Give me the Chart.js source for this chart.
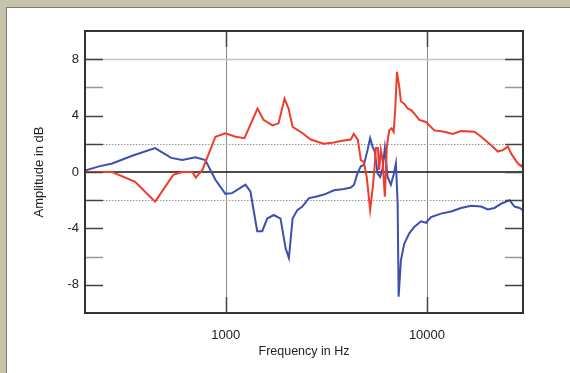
<!DOCTYPE html>
<html>
<head>
<meta charset="utf-8">
<script src="https://cdn.jsdelivr.net/npm/chart.js@4"></script>
<style>
  body { margin: 0; width: 570px; height: 373px; overflow: hidden; position: relative; background: #c5c3aa; }
  .panel { position: absolute; left: 6px; top: 7px; width: 564px; height: 366px; background: #fff;
           border-left: 1px solid #7d7c72; border-top: 1px solid #7d7c72; box-sizing: border-box; }
  #graph { position: absolute; left: 0; top: 0; }
</style>
</head>
<body>
<div class="panel"></div>
<canvas id="graph" width="570" height="373"></canvas>
<script>
// frequency response, two traces (Hz / dB)
const redFreq = [200, 273, 355, 446, 549, 609, 683, 710, 766, 889, 997, 1118, 1240, 1439, 1541, 1709, 1830, 1961,
  2053, 2150, 2411, 2643, 3069, 3442, 3728, 4182, 4328, 4532, 4692, 4857, 5025, 5220, 5383, 5477, 5572, 5702,
  5788, 5902, 6015, 6176, 6320, 6491, 6672, 6828, 6954, 7091, 7281, 7424, 7709, 8013, 8324, 8646, 9157, 9888,
  10877, 12198, 13433, 14773, 17211, 18584, 20838, 22504, 23831, 25237, 26213, 28311, 29403, 30000];
const redDb = [0, 0, -0.7, -2.1, -0.2, 0, 0, -0.4, 0.15, 2.5, 2.75, 2.5, 2.4, 4.5, 3.7, 3.3, 3.45, 5.2,
  4.5, 3.2, 2.75, 2.3, 2.0, 2.1, 2.2, 2.3, 2.7, 2.3, 0.85, 0.7, -0.4, -2.7, -1.05, 0.15, 1.7, 1.7,
  0.15, 1.55, 0.85, -1.75, 1.8, 2.95, 3.1, 2.85, 4.4, 7.1, 6.05, 5.0, 4.85, 4.5, 4.4, 4.15, 3.7, 3.55,
  2.95, 2.85, 2.7, 2.9, 2.85, 2.5, 1.9, 1.45, 1.55, 1.8, 1.3, 0.6, 0.4, 0.6];

const blueFreq = [200, 235, 273, 343, 446, 536, 609, 707, 792, 889, 997, 1076, 1254, 1328, 1434, 1519, 1608,
  1735, 1873, 1984, 2061, 2150, 2269, 2403, 2592, 2799, 3079, 3454, 3873, 4182, 4343, 4516, 4692, 4857, 5066,
  5220, 5365, 5508, 5681, 5854, 6015, 6176, 6372, 6618, 6828, 7010, 7149, 7231, 7424, 7709, 8166, 8646, 9338,
  9888, 10471, 11748, 13175, 14773, 16570, 18584, 20066, 21650, 23381, 25711, 27227, 28836, 30000];
const blueDb = [0.1, 0.4, 0.6, 1.15, 1.7, 1.0, 0.85, 1.05, 0.85, -0.55, -1.55, -1.5, -0.9, -1.4, -4.2, -4.2, -3.3,
  -3.05, -3.3, -5.4, -6.1, -3.3, -2.7, -2.45, -1.85, -1.75, -1.6, -1.3, -1.2, -1.1, -0.9, -0.1, 0.4, 0.5, 1.55,
  2.4, 1.8, 1.45, -0.1, -0.35, 0.25, 1.7, -0.35, -0.9, -0.2, 0.6, -2.2, -8.85, -6.25, -5.1, -4.35, -3.9, -3.5,
  -3.6, -3.2, -2.95, -2.8, -2.55, -2.4, -2.45, -2.65, -2.55, -2.25, -2.0, -2.45, -2.55, -2.7];

const xLabels = [1000, 10000];
const yTicks = [-8, -6, -4, -2, 0, 2, 4, 6, 8];
const yLabels = [-8, -4, 0, 4, 8];

const toPoints = (fs, ds) => fs.map((f, i) => ({ x: f, y: ds[i] }));

Chart.defaults.font.family = '"Liberation Sans", Arial, sans-serif';
Chart.defaults.color = '#222';

// grid lines, inward tick marks and the box around the plot
const plotFrame = {
  id: 'plotFrame',
  beforeDatasetsDraw(chart) {
    const { ctx, chartArea: a, scales: { x, y } } = chart;
    ctx.save();
    ctx.lineWidth = 1;
    ctx.strokeStyle = '#8c8c8c';
    xLabels.forEach(v => {
      const px = Math.round(x.getPixelForValue(v)) + 0.5;
      ctx.beginPath(); ctx.moveTo(px, a.top); ctx.lineTo(px, a.bottom); ctx.stroke();
    });
    let py = Math.round(y.getPixelForValue(8)) + 0.5;
    ctx.strokeStyle = '#c4c4c4';
    ctx.lineWidth = 1.5;
    ctx.beginPath(); ctx.moveTo(a.left, py); ctx.lineTo(a.right, py); ctx.stroke();
    ctx.lineWidth = 1;
    ctx.strokeStyle = '#9a9a9a';
    ctx.setLineDash([1.5, 1.5]);
    [2, -2].forEach(v => {
      py = Math.round(y.getPixelForValue(v)) + 0.5;
      ctx.beginPath(); ctx.moveTo(a.left, py); ctx.lineTo(a.right, py); ctx.stroke();
    });
    ctx.setLineDash([]);
    ctx.strokeStyle = '#111';
    ctx.lineWidth = 1.5;
    py = y.getPixelForValue(0);
    ctx.beginPath(); ctx.moveTo(a.left, py); ctx.lineTo(a.right, py); ctx.stroke();
    ctx.restore();
  },
  afterDatasetsDraw(chart) {
    const { ctx, chartArea: a, scales: { x, y } } = chart;
    ctx.save();
    ctx.lineWidth = 1.5;
    yTicks.forEach(v => {
      const py = Math.round(y.getPixelForValue(v)) + 0.5;
      ctx.strokeStyle = Math.abs(v) === 6 ? '#999' : '#444';
      ctx.beginPath();
      ctx.moveTo(a.left, py); ctx.lineTo(a.left + 18, py);
      ctx.moveTo(a.right, py); ctx.lineTo(a.right - 18, py);
      ctx.stroke();
    });
    ctx.strokeStyle = '#444';
    xLabels.forEach(v => {
      const px = Math.round(x.getPixelForValue(v)) + 0.5;
      ctx.beginPath();
      ctx.moveTo(px, a.bottom); ctx.lineTo(px, a.bottom - 16);
      ctx.moveTo(px, a.top); ctx.lineTo(px, a.top + 16);
      ctx.stroke();
    });
    ctx.strokeStyle = '#333';
    ctx.lineWidth = 2;
    ctx.strokeRect(a.left, a.top, a.right - a.left, a.bottom - a.top);
    ctx.restore();
  }
};

new Chart(document.getElementById('graph'), {
  type: 'line',
  data: {
    datasets: [
      { data: toPoints(redFreq, redDb), borderColor: '#f03c2c', borderWidth: 2, pointRadius: 0, tension: 0 },
      { data: toPoints(blueFreq, blueDb), borderColor: '#3c50b0', borderWidth: 2, pointRadius: 0, tension: 0 }
    ]
  },
  options: {
    responsive: false,
    animation: false,
    devicePixelRatio: 1,
    layout: { padding: { top: 31, right: 47, left: 0, bottom: 0 } },
    plugins: { legend: { display: false }, tooltip: { enabled: false } },
    scales: {
      x: {
        type: 'logarithmic',
        min: 200,
        max: 30000,
        afterFit: s => { s.height = 60; },
        afterBuildTicks: s => { s.ticks = xLabels.map(v => ({ value: v })); },
        grid: { display: false },
        border: { display: false },
        ticks: { autoSkip: false, maxRotation: 0, padding: 7, font: { size: 13 }, callback: v => String(v) },
        title: { display: true, text: 'Frequency in Hz', font: { size: 12.5 }, padding: { top: 0, bottom: 13.5 } }
      },
      y: {
        min: -10,
        max: 10,
        afterFit: s => { s.width = 85; },
        afterBuildTicks: s => { s.ticks = yLabels.map(v => ({ value: v })); },
        grid: { display: false, drawTicks: false },
        border: { display: false },
        ticks: { padding: 6, font: { size: 13 }, callback: v => String(v) },
        title: { display: true, text: 'Amplitude in dB', font: { size: 13 }, padding: { top: 32, bottom: 0 } }
      }
    }
  },
  plugins: [plotFrame]
});
</script>
</body>
</html>
